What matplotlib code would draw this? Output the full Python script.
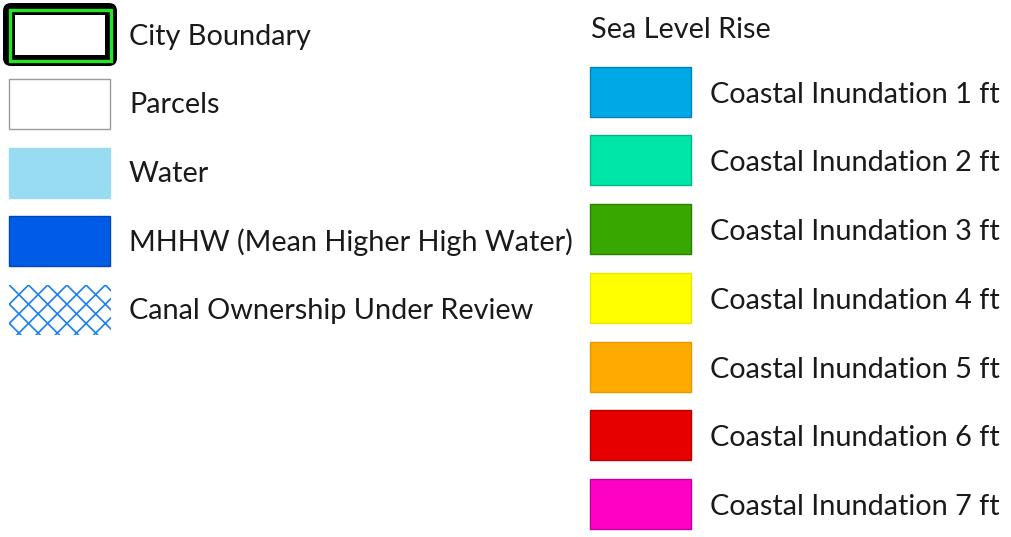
import numpy as np
import matplotlib.pyplot as plt
from matplotlib.patches import Rectangle, FancyBboxPatch

plt.rcParams['font.family'] = ['Lato', 'DejaVu Sans']

# left legend items (the first one is drawn as a special boundary symbol)
left_labels = ["City Boundary", "Parcels", "Water", "MHHW (Mean Higher High Water)",
               "Canal Ownership Under Review"]
left_fills = [None, "#ffffff", "#97dcf1", "#005ce6", None]
left_edges = [None, "#9c9c9c", "#97dcf1", "#0048b5", None]

# sea level rise classes
slr_title = "Sea Level Rise"
slr_labels = ["Coastal Inundation %d ft" % i for i in range(1, 8)]
slr_fills = ["#00a8e6", "#00e6a9", "#38a800", "#ffff00", "#ffaa00", "#e60000", "#ff00c5"]
slr_edges = ["#0084b8", "#00b886", "#2a7f00", "#e6e600", "#e69900", "#b30000", "#c0009a"]

fig = plt.figure(figsize=(10.11, 5.37), dpi=100)
ax = fig.add_axes([0, 0, 1, 1])
ax.set_xlim(0, 1011)
ax.set_ylim(537, 0)
ax.axis("off")

fs = 20.8

# left column
left_tops = [9, 79, 148, 216, 285]
for i, lab in enumerate(left_labels):
    top = left_tops[i]
    yc = top + 26
    if i == 0:
        ax.add_patch(FancyBboxPatch((7, 7), 106, 55, boxstyle="round,pad=4,rounding_size=8",
                                    fc="black", ec="none"))
        ax.add_patch(Rectangle((9.8, 9.8), 101, 51, fc="none", ec="#22e622", lw=2.4))
        ax.add_patch(Rectangle((15, 15), 90, 40, fc="white", ec="none"))
        yc = 37
    elif i == 4:
        # crosshatch symbol
        box = Rectangle((9, top), 102, 50, fc="none", ec="none")
        ax.add_patch(box)
        step = 19.2
        for x0 in np.arange(9.3 - 4 * step, 111 + 4 * step, step):
            for s in (1, -1):
                ln, = ax.plot([x0, x0 + s * 60], [top, top + 60], color="#1a7ff0", lw=1.2)
                ln.set_clip_path(box)
    else:
        ax.add_patch(Rectangle((9, top), 101, 50, fc=left_fills[i], ec=left_edges[i], lw=1.0))
    ax.text(129, yc, lab, fontsize=fs, va="center", ha="left", color="#1a1a1a")

# right column
ax.text(591, 30, slr_title, fontsize=fs, va="center", ha="left", color="#1a1a1a")
slr_tops = [67, 135, 204, 273, 342, 410, 479]
for i, lab in enumerate(slr_labels):
    top = slr_tops[i]
    ax.add_patch(Rectangle((590, top), 101, 50, fc=slr_fills[i], ec=slr_edges[i], lw=1.0))
    ax.text(710, top + 28, lab, fontsize=fs, va="center", ha="left", color="#1a1a1a")

fig.savefig("out.png", dpi=100)
